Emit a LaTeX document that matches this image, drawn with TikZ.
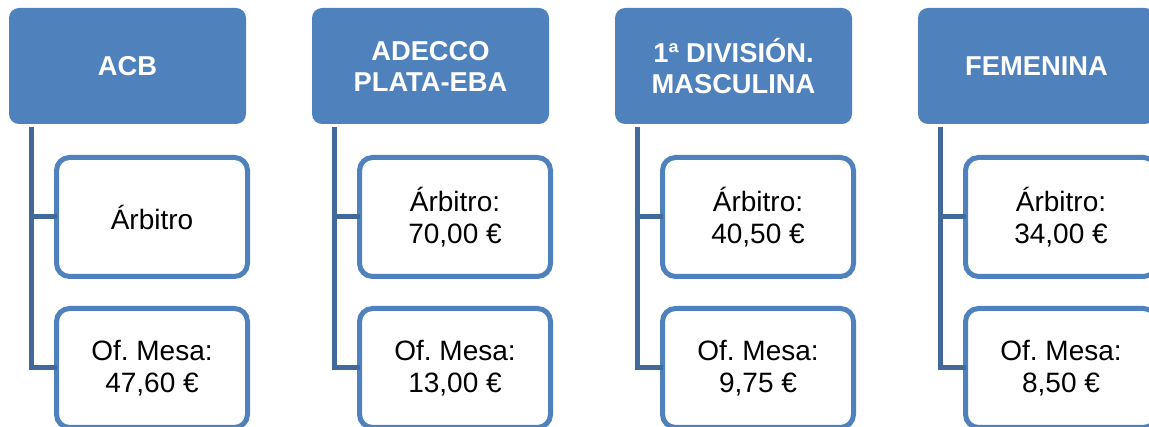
\documentclass[tikz,border=0pt]{standalone}
\usepackage{fontspec}
\setmainfont{Liberation Sans}
\frenchspacing
\usetikzlibrary{positioning}
\definecolor{hdrblue}{HTML}{4F81BD}
\definecolor{linkblue}{HTML}{41699A}

\begin{document}
\begin{tikzpicture}[x=1pt,y=-1pt,node distance=66pt,
    league/.style={rectangle,rounded corners=10pt,fill=hdrblue,minimum width=237pt,minimum height=116pt,outer sep=0pt,inner sep=2pt,align=center,text=white,font=\bfseries\fontsize{27.3}{31}\selectfont},
    fee/.style={rectangle,rounded corners=13pt,draw=hdrblue,line width=5pt,fill=white,minimum width=191pt,minimum height=119pt,outer sep=0pt,align=center,font=\fontsize{28}{32}\selectfont},
    link/.style={draw=linkblue,line width=5pt}]
            \useasboundingbox (0,0) rectangle (1149,427);
            \clip (0,0) rectangle (1149,427);

            \node[league] (acb) at (127.5,66) {ACB};
            \node[league] (eba) [right=of acb] {ADECCO\\PLATA-EBA};
            \node[league] (div) [right=of eba] {1ª DIVISIÓN.\\MASCULINA};
            \node[league] (fem) [right=of div] {FEMENINA};

            % arbitros
            \node[fee] (arbacb) [below=33.5pt of acb, xshift=24.5pt] {Árbitro};
            \node[fee] (arbeba) [below=33.5pt of eba, xshift=24.5pt] {Árbitro:\\70,00 €};
            \node[fee] (arbdiv) [below=33.5pt of div, xshift=24.5pt] {Árbitro:\\40,50 €};
            \node[fee] (arbfem) [below=33.5pt of fem, xshift=24.5pt] {Árbitro:\\34,00 €};

            % oficiales de mesa
            \node[fee] (mesacb) [below=32pt of arbacb] {Of. Mesa:\\47,60 €};
            \node[fee] (meseba) [below=32pt of arbeba] {Of. Mesa:\\13,00 €};
            \node[fee] (mesdiv) [below=32pt of arbdiv] {Of. Mesa:\\9,75 €};
            \node[fee] (mesfem) [below=32pt of arbfem] {Of. Mesa:\\8,50 €};

            \path[link]
                ([xshift=22pt,yshift=-3pt]acb.south west) |- (arbacb.west)
                ([xshift=22pt,yshift=-3pt]acb.south west) |- (mesacb.west)
                ([xshift=22pt,yshift=-3pt]eba.south west) |- (arbeba.west)
                ([xshift=22pt,yshift=-3pt]eba.south west) |- (meseba.west)
                ([xshift=22pt,yshift=-3pt]div.south west) |- (arbdiv.west)
                ([xshift=22pt,yshift=-3pt]div.south west) |- (mesdiv.west)
                ([xshift=22pt,yshift=-3pt]fem.south west) |- (arbfem.west)
                ([xshift=22pt,yshift=-3pt]fem.south west) |- (mesfem.west)
                ;
        \end{tikzpicture}
\end{document}
